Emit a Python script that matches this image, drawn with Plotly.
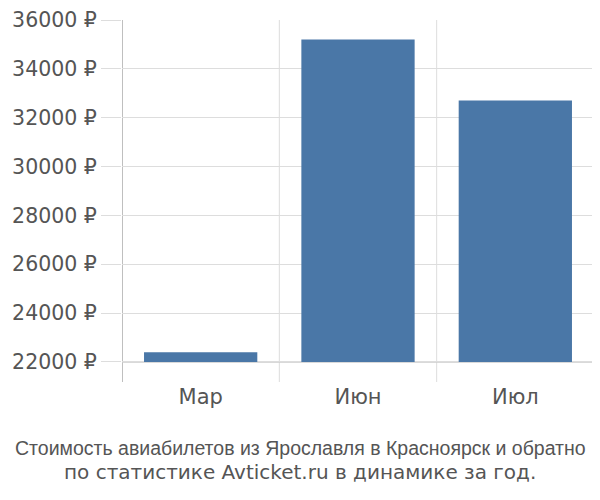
import plotly.graph_objects as go

months = ["Мар", "Июн", "Июл"]
prices = [22400, 35200, 32700]
y_ticks = [22000, 24000, 26000, 28000, 30000, 32000, 34000, 36000]
y_labels = [f"{v} ₽" for v in y_ticks]
title_lines = ["Стоимость авиабилетов из Ярославля в Красноярск и обратно",
               "по статистике Avticket.ru в динамике за год."]

grid_col = "#dddddd"
text_col = "#555555"
label_font = "DejaVu Sans"

fig = go.Figure(go.Bar(
    x=months, y=[p - 22000 for p in prices], base=22000,
    marker=dict(color="#4a77a7", line_width=0),
    width=0.72,
))

# vertical separators between categories
for i in range(len(months) + 1):
    fig.add_shape(type="line", xref="x", yref="paper",
                  x0=i - 0.5, x1=i - 0.5, y0=0, y1=1,
                  line=dict(color="#aaaaaa" if i == 0 else grid_col, width=1.5 if i == 0 else 1),
                  layer="below")

# baseline
fig.add_shape(type="line", xref="paper", yref="y", x0=0, x1=1, y0=22000, y1=22000,
              line=dict(color="#cccccc", width=1.5), layer="below")

fig.add_annotation(text=title_lines[0], xref="paper", yref="paper", x=0.5, y=-0.182,
                   xanchor="center", yanchor="middle", showarrow=False, xshift=-58,
                   font=dict(family="Liberation Sans", size=19.5, color=text_col))
fig.add_annotation(text=title_lines[1], xref="paper", yref="paper", x=0.5, y=-0.249,
                   xanchor="center", yanchor="middle", showarrow=False, xshift=-58,
                   font=dict(family=label_font, size=20, color=text_col))

fig.update_layout(
    width=592, height=492,
    margin=dict(l=114, r=6, t=12, b=118, autoexpand=False),
    paper_bgcolor="white", plot_bgcolor="white",
    showlegend=False,
    font=dict(family=label_font, size=20, color=text_col),
)
fig.update_xaxes(range=[-0.5, 2.5], showgrid=False, showline=False, ticks="",
                 tickfont=dict(family=label_font, size=21, color=text_col), fixedrange=True)
fig.update_yaxes(range=[21181, 36000], tickvals=y_ticks, ticktext=y_labels,
                 showgrid=True, gridcolor=grid_col, gridwidth=1,
                 ticks="outside", ticklen=20, tickcolor=grid_col,
                 zeroline=False, showline=False, ticklabeloverflow="allow",
                 tickfont=dict(family=label_font, size=20.5, color=text_col))

fig.write_html("out.html")
